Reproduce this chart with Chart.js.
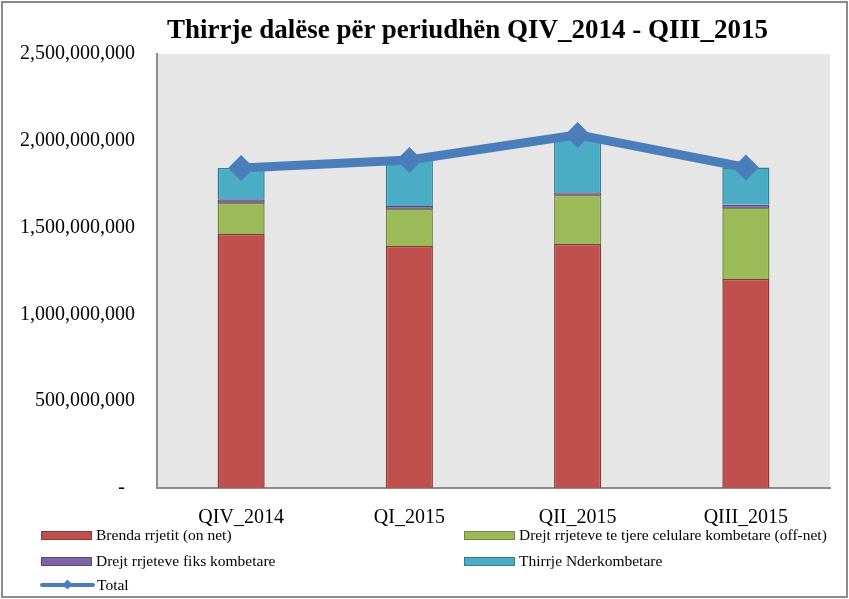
<!DOCTYPE html>
<html>
<head>
<meta charset="utf-8">
<script src="https://cdn.jsdelivr.net/npm/chart.js@4/dist/chart.umd.min.js"></script>
<style>
  body { margin: 0; background: #fff; }
  #wrap { position: relative; width: 849px; height: 599px; }
  #frame { position: absolute; left: 1px; top: 1px; width: 843px; height: 593px; border: 2px solid #8c8c8c; box-sizing: content-box; pointer-events: none; }
  #title { position: absolute; left: 0; width: 935px; top: 14px; text-align: center; font: bold 27px "Liberation Serif", serif; color: #000; }
  #legend { position: absolute; left: 41px; top: 524px; width: 800px; font: 15.5px "Liberation Serif", serif; color: #000; }
  .item { position: absolute; height: 22px; display: flex; align-items: center; white-space: nowrap; }
  .sw { width: 49px; height: 7px; border: 1px solid; margin-right: 4px; }
  .ln { position: relative; width: 55px; height: 4px; background: #4a7ebb; margin-right: 2px; border-radius: 2px; }
  .ln::after { content: ""; position: absolute; left: 24px; top: -2px; width: 7px; height: 7px; background: #4a7ebb; transform: rotate(45deg); }
</style>
</head>
<body>
<div id="wrap">
  <canvas id="chart" width="849" height="599"></canvas>
  <div id="title">Thirrje dalëse për periudhën QIV_2014 - QIII_2015</div>
  <div id="legend"></div>
  <div id="frame"></div>
</div>
<script>
// quarters on the x axis
const quarters = ["QIV_2014", "QI_2015", "QII_2015", "QIII_2015"];

// call volumes
const onNet = [1463000000, 1394000000, 1406000000, 1204000000];
const offNet = [179000000, 213000000, 282000000, 409000000];
const fixedNet = [22000000, 18000000, 16000000, 18000000];
const international = [179000000, 265000000, 330000000, 215000000];
const totals = [1843000000, 1890000000, 2034000000, 1846000000];

const yTicks = [0, 500000000, 1000000000, 1500000000, 2000000000, 2500000000];

const serif = "'Liberation Serif', serif";

// grey plot background
const plotBg = {
  id: "plotBg",
  beforeDraw(chart) {
    const a = chart.chartArea;
    const ctx = chart.ctx;
    ctx.save();
    ctx.fillStyle = "#e6e6e6";
    ctx.fillRect(a.left, a.top, a.right - a.left, a.bottom - a.top);
    ctx.restore();
  }
};

const ctx = document.getElementById("chart").getContext("2d");
const chart = new Chart(ctx, {
  data: {
    labels: quarters,
    datasets: [
      {
        type: "line",
        label: "Total",
        data: totals,
        stack: "total",
        borderColor: "#4a7ebb",
        backgroundColor: "#4a7ebb",
        borderWidth: 9,
        pointStyle: "rectRot",
        pointRadius: 13,
        pointBorderWidth: 0,
        tension: 0,
        fill: false
      },
      {
        type: "bar",
        label: "Brenda rrjetit (on net)",
        data: onNet,
        stack: "calls",
        backgroundColor: "#c0504d",
        borderColor: "#8c3836",
        borderWidth: 1.5
      },
      {
        type: "bar",
        label: "Drejt rrjeteve te tjere celulare kombetare (off-net)",
        data: offNet,
        stack: "calls",
        backgroundColor: "#9bbb59",
        borderColor: "#71893f",
        borderWidth: 1.5
      },
      {
        type: "bar",
        label: "Drejt rrjeteve fiks kombetare",
        data: fixedNet,
        stack: "calls",
        backgroundColor: "#8064a2",
        borderColor: "#5c4776",
        borderWidth: 1.5
      },
      {
        type: "bar",
        label: "Thirrje Nderkombetare",
        data: international,
        stack: "calls",
        backgroundColor: "#4bacc6",
        borderColor: "#357d91",
        borderWidth: 1.5
      }
    ]
  },
  options: {
    responsive: false,
    animation: false,
    datasets: { bar: { categoryPercentage: 1, barPercentage: 0.28 } },
    layout: { padding: { top: 54, right: 19, left: 0, bottom: 0 } },
    plugins: {
      legend: { display: false },
      title: { display: false },
      tooltip: { enabled: false }
    },
    scales: {
      x: {
        stacked: true,
        grid: { display: false },
        border: { display: true, color: "#8c8c8c", width: 2 },
        ticks: { color: "#000", font: { family: serif, size: 20 }, padding: 10 },
        afterFit(scale) { scale.height = 111; }
      },
      y: {
        stacked: true,
        min: 0,
        max: 2500000000,
        afterBuildTicks(scale) { scale.ticks = yTicks.map(v => ({ value: v })); },
        grid: { display: false },
        border: { display: true, color: "#8c8c8c", width: 2 },
        ticks: {
          color: "#000",
          font: { family: serif, size: 20 },
          padding: 14,
          // accounting style: zero shows as a dash set in from the right
          callback: v => v === 0 ? "-  " : v.toLocaleString("en-US")
        },
        afterFit(scale) { scale.width = 157; }
      }
    }
  },
  plugins: [plotBg]
});

// legend laid out in two columns like the original
const legendItems = [
  { text: "Brenda rrjetit (on net)", fill: "#c0504d", border: "#8c3836", x: 0, y: 0 },
  { text: "Drejt rrjeteve te tjere celulare kombetare (off-net)", fill: "#9bbb59", border: "#71893f", x: 423, y: 0 },
  { text: "Drejt rrjeteve fiks kombetare", fill: "#8064a2", border: "#5c4776", x: 0, y: 26 },
  { text: "Thirrje Nderkombetare", fill: "#4bacc6", border: "#357d91", x: 423, y: 26 },
  { text: "Total", line: true, x: -1, y: 50 }
];
const legend = document.getElementById("legend");
legendItems.forEach(it => {
  const el = document.createElement("div");
  el.className = "item";
  el.style.left = it.x + "px";
  el.style.top = it.y + "px";
  const mark = document.createElement("span");
  if (it.line) {
    mark.className = "ln";
  } else {
    mark.className = "sw";
    mark.style.background = it.fill;
    mark.style.borderColor = it.border;
  }
  el.appendChild(mark);
  const txt = document.createElement("span");
  txt.textContent = it.text;
  el.appendChild(txt);
  legend.appendChild(el);
});
</script>
</body>
</html>
